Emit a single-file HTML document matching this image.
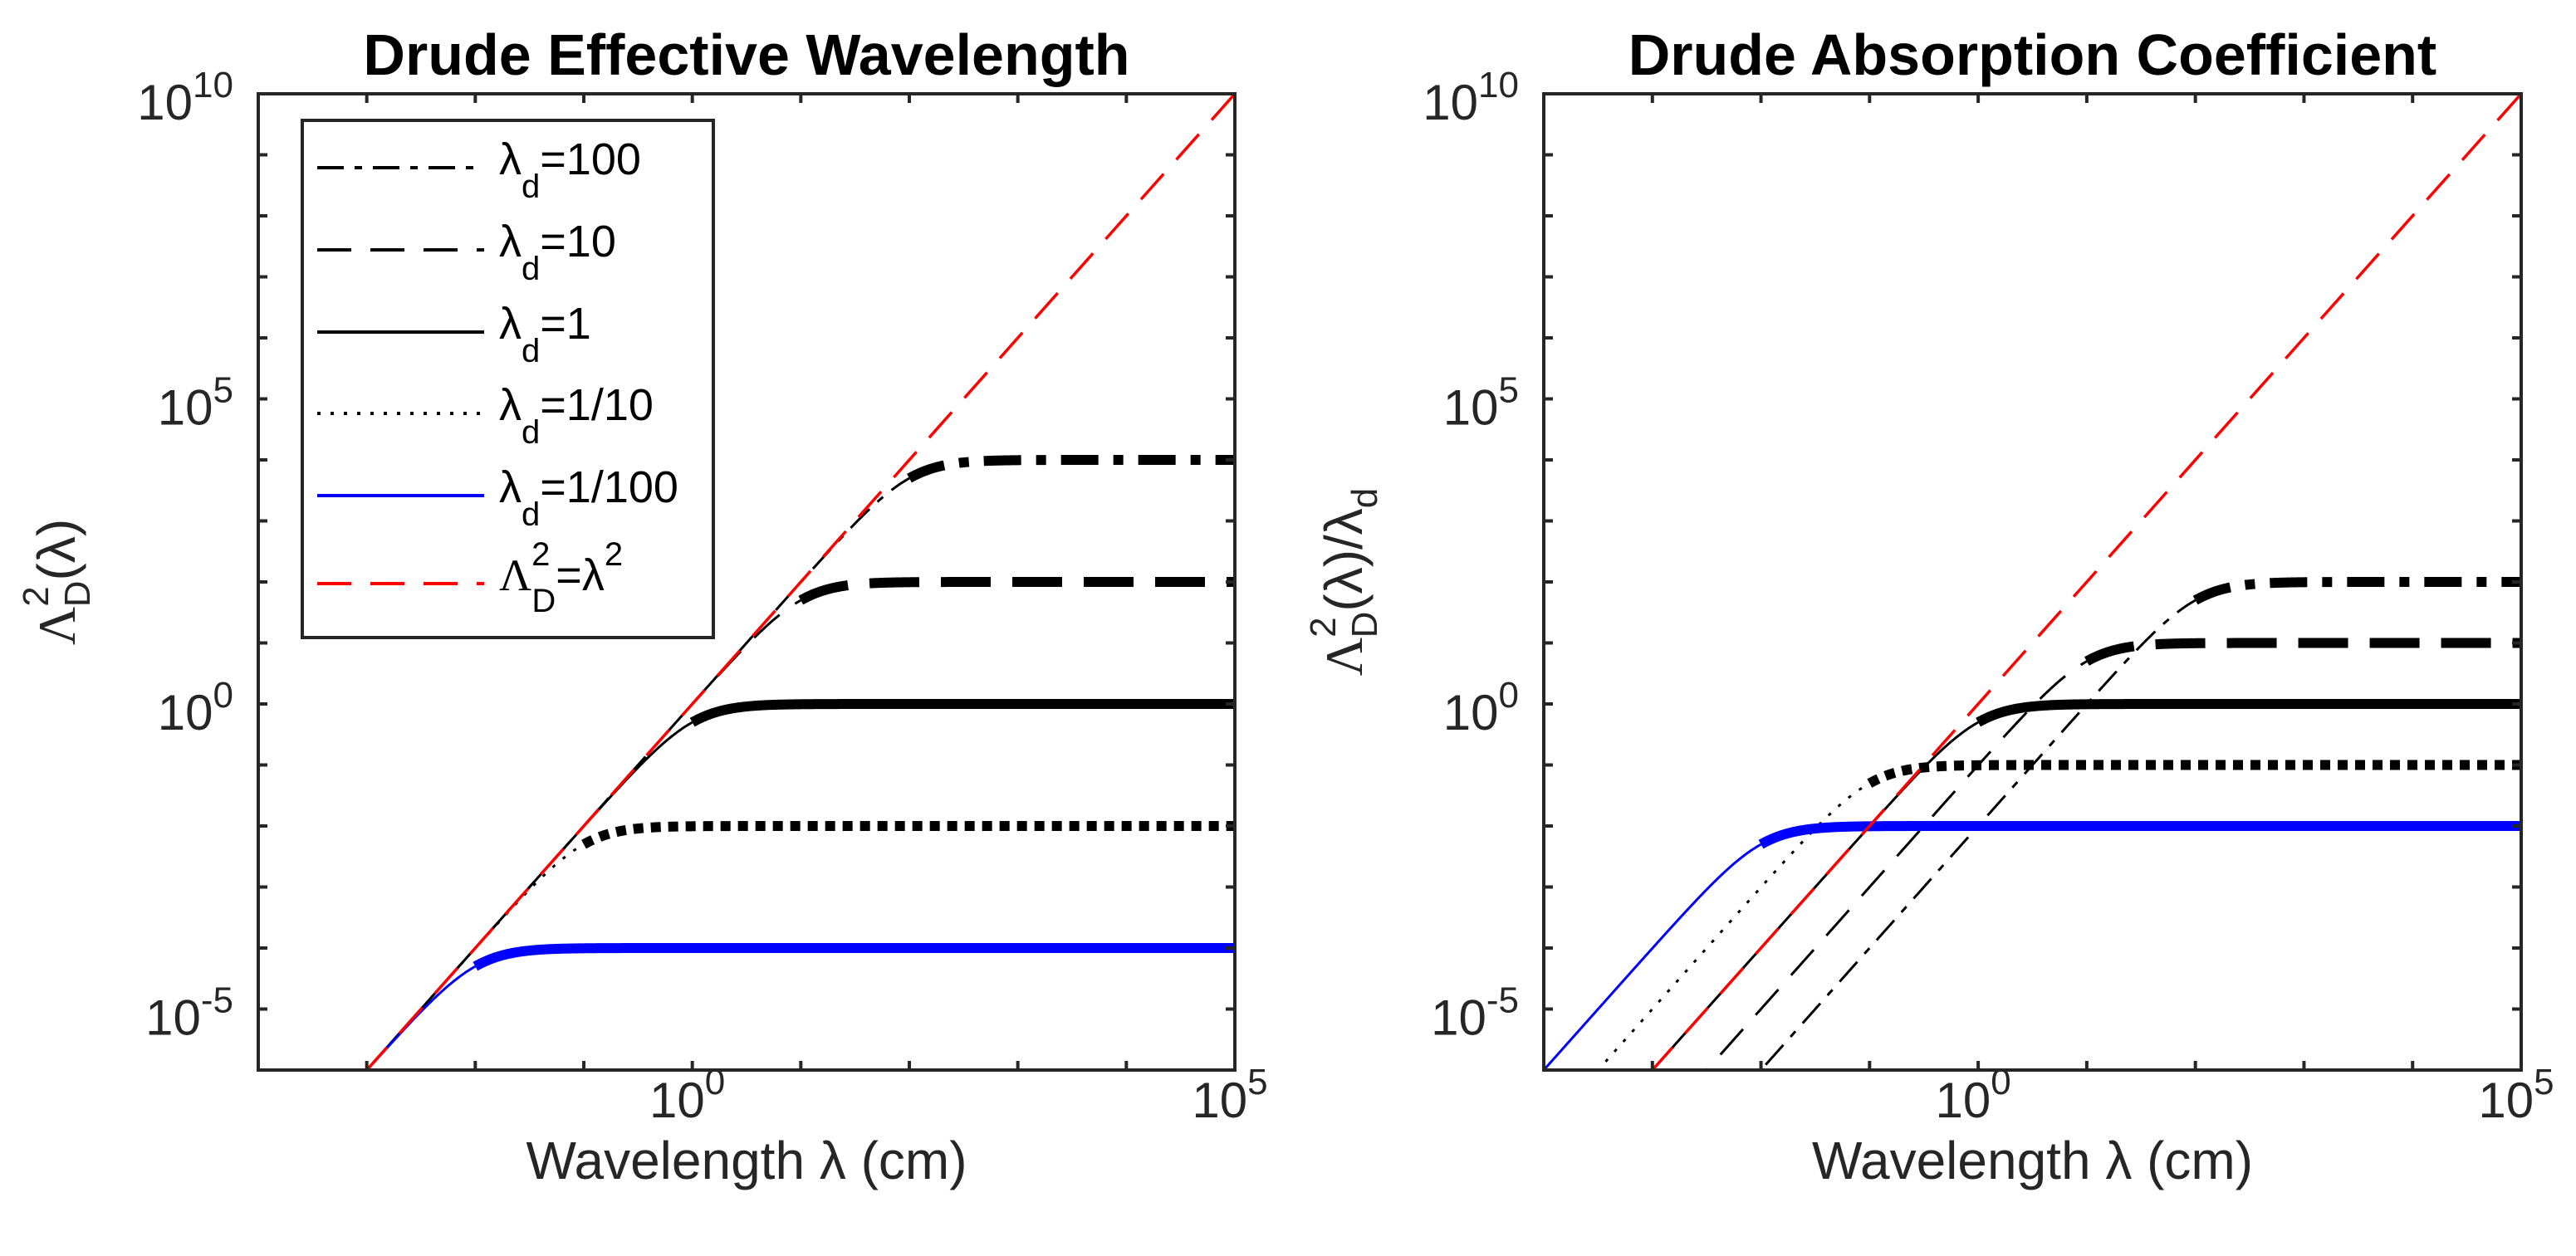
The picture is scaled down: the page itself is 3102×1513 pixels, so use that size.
<!DOCTYPE html>
<html>
<head>
<meta charset="utf-8">
<style>
html,body{margin:0;padding:0;background:#fff;}
svg{display:block;}
text{font-family:"Liberation Sans",Arial,sans-serif;fill:#262626;}
</style>
</head>
<body>
<svg id="fig" width="3102" height="1513" viewBox="0 0 3102 1513" xmlns="http://www.w3.org/2000/svg">
<defs>
<clipPath id="clipL"><rect x="311" y="113" width="1176" height="1176"/></clipPath>
<clipPath id="clipR"><rect x="1859" y="113" width="1177" height="1176"/></clipPath>
</defs>
<rect x="0" y="0" width="3102" height="1513" fill="#fff"/>
<g id="root"></g>
</svg>
<script>
// ---- data ----
const lambdaD = [100, 10, 1, 0.1, 0.01];
const seriesLabels = ['100', '10', '1', '1/10', '1/100'];
const xTickExps = [-4, -3, -2, -1, 0, 1, 2, 3, 4, 5];
const xTickLabels = ['0', '5'];
const yTickExps = [-6, -5, -4, -3, -2, -1, 0, 1, 2, 3, 4, 5, 6, 7, 8, 9, 10];
const yTickLabels = ['-5', '0', '5', '10'];
const xRange = [-4, 5];
const yRange = [-6, 10];

// ---- styles ----
const styles = [
  {color:'#000', thin:'32 13 9 13', thick:'45 18 12 18'},
  {color:'#000', thin:'41 23', thick:'60 26'},
  {color:'#000', thin:null, thick:null},
  {color:'#000', thin:'4 12', thick:'12 9'},
  {color:'#0000ff', thin:null, thick:null}
];
const NS = 'http://www.w3.org/2000/svg';
const root = document.getElementById('root');
function el(tag, attrs, parent){
  const e = document.createElementNS(NS, tag);
  for (const k in attrs) e.setAttribute(k, attrs[k]);
  (parent||root).appendChild(e);
  return e;
}
const panels = [
  {x0:311, x1:1487, y0:113, y1:1289, clip:'clipL', norm:false, name:'left',
   title:'Drude Effective Wavelength'},
  {x0:1859, x1:3036, y0:113, y1:1289, clip:'clipR', norm:true, name:'right',
   title:'Drude Absorption Coefficient'}
];
function xMap(p, v){ return p.x0 + (Math.log10(v) - xRange[0]) / (xRange[1]-xRange[0]) * (p.x1-p.x0); }
function yMap(p, v){ return p.y1 - (Math.log10(v) - yRange[0]) / (yRange[1]-yRange[0]) * (p.y1-p.y0); }

function drudeVal(lam, ld, norm){
  const v = lam*lam*ld*ld/(lam*lam+ld*ld);
  return norm ? v/ld : v;
}
function pathFor(p, ld, e0, e1, norm){
  let d = '';
  const n = Math.max(2, Math.ceil((e1-e0)/0.01));
  for (let i=0;i<=n;i++){
    const lam = Math.pow(10, e0 + (e1-e0)*i/n);
    const v = drudeVal(lam, ld, norm);
    d += (i===0?'M':'L') + xMap(p,lam).toFixed(2) + ' ' + yMap(p,v).toFixed(2) + ' ';
  }
  return d;
}

panels.forEach(function(p){
  const g = el('g', {});
  
  
  const plot = el('g', {'clip-path':'url(#'+p.clip+')'}, g);
  
  

  lambdaD.forEach(function(ld, i){
    const s = styles[i];
    const le = Math.log10(ld);
    const thin = el('path', {d:pathFor(p, ld, xRange[0], le, p.norm), fill:'none', stroke:s.color, 'stroke-width':3}, plot);
    if (s.thin) thin.setAttribute('stroke-dasharray', s.thin);
    
    
    const thick = el('path', {d:pathFor(p, ld, le, xRange[1], p.norm), fill:'none', stroke:s.color, 'stroke-width':12}, plot);
    if (s.thick) thick.setAttribute('stroke-dasharray', s.thick);
    
    
  });
  const a0 = Math.pow(10, xRange[0]), a1 = Math.pow(10, xRange[1]);
  const red = el('line', {x1:xMap(p,a0), y1:yMap(p,a0*a0), x2:xMap(p,a1), y2:yMap(p,a1*a1),
    stroke:'#ff0000', 'stroke-width':3.5, 'stroke-dasharray':'41 23'}, plot);
  
  

  const box = el('rect', {x:p.x0, y:p.y0, width:p.x1-p.x0, height:p.y1-p.y0, fill:'none', stroke:'#262626', 'stroke-width':4}, g);
  
  

  xTickExps.forEach(function(e){
    const x = xMap(p, Math.pow(10,e));
    const t1 = el('line', {x1:x, y1:p.y1, x2:x, y2:p.y1-11, stroke:'#262626','stroke-width':4}, g);
    
    
    const t2 = el('line', {x1:x, y1:p.y0, x2:x, y2:p.y0+11, stroke:'#262626','stroke-width':4}, g);
    
    
  });
  yTickExps.forEach(function(e){
    const y = yMap(p, Math.pow(10,e));
    const t1 = el('line', {x1:p.x0, y1:y, x2:p.x0+11, y2:y, stroke:'#262626','stroke-width':4}, g);
    
    
    const t2 = el('line', {x1:p.x1, y1:y, x2:p.x1-11, y2:y, stroke:'#262626','stroke-width':4}, g);
    
    
  });
  xTickLabels.forEach(function(lb){
    const x = xMap(p, Math.pow(10, +lb));
    const t = el('text', {x:x-6, y:1346, 'font-size':60, 'text-anchor':'middle'}, g);
    
    
    t.appendChild(document.createTextNode('10'));
    const s = el('tspan', {dy:-28, 'font-size':44}, t);
    s.textContent = lb;
  });
  yTickLabels.forEach(function(lb){
    const y = yMap(p, Math.pow(10, +lb));
    const t = el('text', {x:p.x0-30, y:y+31, 'font-size':60, 'text-anchor':'end'}, g);
    
    
    t.appendChild(document.createTextNode('10'));
    const s = el('tspan', {dy:-27, 'font-size':44}, t);
    s.textContent = lb;
  });
  const cx = (p.x0+p.x1)/2;
  const tt = el('text', {x:cx, y:90, 'font-size':70, 'font-weight':'bold', 'text-anchor':'middle', fill:'#000'}, g);
  tt.style.fill = '#000';
  tt.textContent = p.title;
  
  
  const xl = el('text', {x:cx, y:1420, 'font-size':64, 'text-anchor':'middle'}, g);
  xl.textContent = 'Wavelength λ (cm)';
  
  
});

function yLabel(x, norm, name){
  const t = el('text', {x:0, y:0, 'font-size':64, 'text-anchor':'middle', transform:'translate('+x+' 701) rotate(-90)'});
  
  
  const L = el('tspan', {'font-family':'"Liberation Serif",serif'}, t); L.textContent = 'Λ';
  const sup = el('tspan', {dy:-32, 'font-size':44}, t); sup.textContent = '2';
  const sub = el('tspan', {dx:-25, dy:50, 'font-size':44}, t); sub.textContent = 'D';
  const rest = el('tspan', {dy:-18}, t); rest.textContent = '(λ)' + (norm ? '/λ' : '');
  if (norm){ const d = el('tspan', {dy:18, 'font-size':44}, t); d.textContent = 'd'; }
}
yLabel(90, false, 'left-y-axis-title');
yLabel(1640, true, 'right-y-axis-title');

const lg = el('g', {});


const lbox = el('rect', {x:364, y:145, width:495, height:623, fill:'#fff', stroke:'#262626', 'stroke-width':4}, lg);


const rowY = [202, 301, 400, 498, 597, 703];
lambdaD.forEach(function(ld, i){
  const y = rowY[i];
  const s = styles[i];
  const ln = el('line', {x1:382, y1:y, x2:583, y2:y, stroke:s.color, 'stroke-width':4}, lg);
  if (s.thin) ln.setAttribute('stroke-dasharray', s.thin);
  
  
  const t = el('text', {x:601, y:y+8, 'font-size':54, fill:'#000'}, lg);
  t.style.fill = '#000';
  
  
  t.appendChild(document.createTextNode('λ'));
  const sb = el('tspan', {dy:28, 'font-size':40}, t); sb.textContent = 'd';
  const eq = el('tspan', {dy:-28}, t); eq.textContent = '=' + seriesLabels[i];
});
(function(){
  const y = rowY[5];
  const ln = el('line', {x1:382, y1:y, x2:583, y2:y, stroke:'#ff0000', 'stroke-width':4, 'stroke-dasharray':'41 23'}, lg);
  
  
  const t = el('text', {x:601, y:y+8, 'font-size':54, fill:'#000'}, lg);
  t.style.fill = '#000';
  
  
  const L = el('tspan', {'font-family':'"Liberation Serif",serif'}, t); L.textContent = 'Λ';
  const sp = el('tspan', {dy:-30, 'font-size':40}, t); sp.textContent = '2';
  const sb = el('tspan', {dx:-22, dy:56, 'font-size':40}, t); sb.textContent = 'D';
  const eq = el('tspan', {dy:-26}, t); eq.textContent = '=λ';
  const s2 = el('tspan', {dy:-30, 'font-size':40}, t); s2.textContent = '2';
})();
</script>
</body>
</html>
